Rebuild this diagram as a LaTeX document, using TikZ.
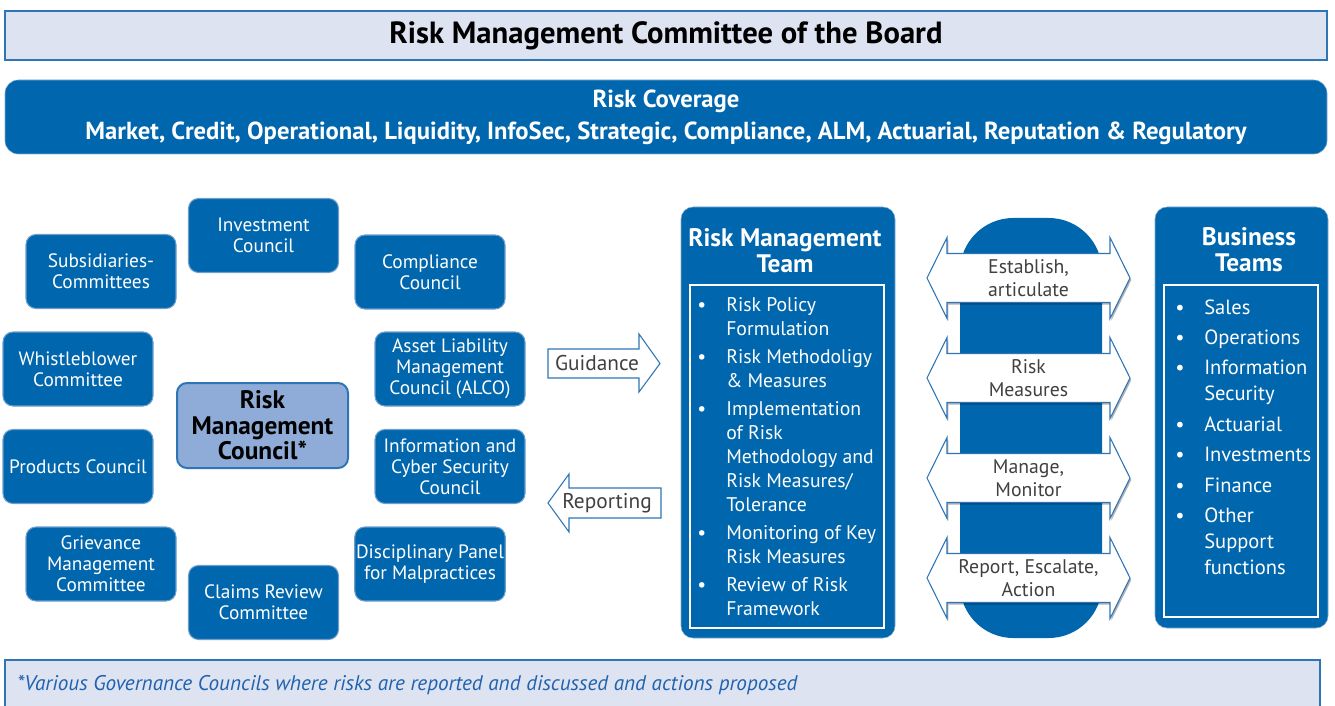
\documentclass[tikz,border=0pt]{standalone}
\usepackage{fontspec}
\setmainfont{PT Sans}
\usetikzlibrary{shadows}

\definecolor{rmblue}{HTML}{0066AD}
\definecolor{rmpale}{HTML}{DEE3F1}
\definecolor{rmline}{HTML}{2E75B6}
\definecolor{rmmid}{HTML}{8FACD9}
\definecolor{rmgray}{HTML}{404040}
\definecolor{rmnote}{HTML}{1F62AE}

\tikzset{
  council/.style={fill=rmblue, draw=rmline!70, line width=0.8pt, rounded corners=7.5pt,
    text=white, align=center, minimum width=112.5pt, minimum height=55.5pt, inner sep=1pt,
    font=\fontsize{14.5}{15.75}\selectfont},
  headtxt/.style={text=white, align=center, font=\bfseries\fontsize{19}{19.5}\selectfont},
  listtxt/.style={text=white, inner sep=0pt, anchor=base west},
  flowtxt/.style={text=rmgray, align=center, inner sep=0pt, font=\fontsize{14.8}{17.25}\selectfont},
  outline/.style={draw=rmline, fill=white, line width=0.8pt},
  glow/.style={drop shadow={shadow xshift=1pt, shadow yshift=-1.5pt, fill=black, opacity=0.3}}
}

% two-headed arrow of the middle column: centre y, node name, text
\newcommand{\twoway}[3]{%
  \draw[outline, glow] (927,#1) -- (947,#1-40.5) -- (947,#1-24.5) -- (1110,#1-24.5)
    -- (1110,#1-40.5) -- (1130,#1) -- (1110,#1+40.5) -- (1110,#1+24.5)
    -- (947,#1+24.5) -- (947,#1+40.5) -- cycle;
  \node[flowtxt] (#2) at (1028.5,#1) {#3};
}

\begin{document}
\begin{tikzpicture}[x=0.75pt,y=-0.75pt]
  \useasboundingbox (0,0) rectangle (1335,706);

  % board and coverage
  \node[draw=rmline, fill=rmpale, line width=1pt, minimum width=991.5pt, minimum height=36.75pt,
    font=\bfseries\fontsize{23}{24}\selectfont] (board) at (666,35.5) {Risk Management Committee of the Board};
  \node[fill=rmblue, draw=rmline!60, rounded corners=10pt, minimum width=991.5pt, minimum height=55.5pt,
    text=white, align=center, font=\bfseries\fontsize{18.5}{24}\selectfont] (cover) at (666,117)
    {Risk Coverage\\Market, Credit, Operational, Liquidity, InfoSec, Strategic, Compliance, ALM, Actuarial, Reputation \& Regulatory};

  % councils
  \node[council] (invest) at (263.5,235.5) {Investment\\Council};
  \node[council] (subsid) at (101,271.5) {Subsidiaries-\\Committees};
  \node[council] (comply) at (430,272) {Compliance\\Council};
  \node[council] (whistle) at (78,369) {Whistleblower\\Committee};
  \node[council] (alco) at (450,369) {Asset Liability\\Management\\Council (ALCO)};
  \node[council] (product) at (78,466.5) {Products Council};
  \node[council] (cyber) at (450,466.5) {Information and\\Cyber Security\\Council};
  \node[council] (grieve) at (101,564) {Grievance\\Management\\Committee};
  \node[council] (discip) at (430,564) {Disciplinary Panel\\for Malpractices};
  \node[council] (claims) at (263.5,602.5) {Claims Review\\Committee};
  \node[council, fill=rmmid, draw=rmline, line width=1.5pt, minimum width=128.25pt, minimum height=63.75pt,
    text=black, font=\bfseries\fontsize{19}{19}\selectfont] (rmc) at (262.5,425.5) {Risk\\Management\\Council*};

  % guidance and reporting
  \draw[outline] (548,349) -- (639,349) -- (639,334) -- (660,363.5) -- (639,392) -- (639,378) -- (548,378) -- cycle;
  \node[flowtxt, font=\fontsize{16}{18}\selectfont] (guide) at (597,363.5) {Guidance};
  \draw[outline] (661,488) -- (569,488) -- (569,474) -- (548,503) -- (569,532) -- (569,518) -- (661,518) -- cycle;
  \node[flowtxt, font=\fontsize{16}{18}\selectfont] (report) at (607,503) {Reporting};

  % risk management team
  \draw[fill=rmblue, draw=rmline!60, rounded corners=9pt] (681,207) rectangle (895,638);
  \node[headtxt] (rmt) at (785,250.5) {Risk Management\\Team};
  \draw[white, line width=1.5pt] (690,285) rectangle (884,628);
  \node[listtxt, font=\fontsize{14.8}{18}\selectfont] (rmtlist) at (697,311) {%
    \begin{tabular}[t]{@{}p{21.75pt}@{}l@{}}
      \textbullet & Risk Policy\\ & Formulation\\[3pt]
      \textbullet & Risk Methodoligy\\ & \& Measures\\[3pt]
      \textbullet & Implementation\\ & of Risk\\ & Methodology and\\ & Risk Measures/\\ & Tolerance\\[3pt]
      \textbullet & Monitoring of Key\\ & Risk Measures\\[3pt]
      \textbullet & Review of Risk\\ & Framework
    \end{tabular}};

  % middle column
  \fill[rmblue] (960,218) [rounded corners=40pt] rectangle (1102,638);
  \twoway{278}{establish}{Establish,\\articulate}
  \twoway{378}{measures}{Risk\\Measures}
  \twoway{478}{manage}{Manage,\\Monitor}
  \twoway{578}{escalate}{Report, Escalate,\\Action}

  % business teams
  \draw[fill=rmblue, draw=rmline!60, rounded corners=9pt] (1155,207) rectangle (1328,628);
  \node[headtxt] (biz) at (1249,249.5) {Business\\Teams};
  \draw[white, line width=1.5pt] (1164,285) rectangle (1318,617);
  \node[listtxt, font=\fontsize{15.4}{19.5}\selectfont] (bizlist) at (1175,314) {%
    \begin{tabular}[t]{@{}p{21.75pt}@{}l@{}}
      \textbullet & Sales\\[3.3pt]
      \textbullet & Operations\\[3.3pt]
      \textbullet & Information\\ & Security\\[3.3pt]
      \textbullet & Actuarial\\[3.3pt]
      \textbullet & Investments\\[3.3pt]
      \textbullet & Finance\\[3.3pt]
      \textbullet & Other\\ & Support\\ & functions
    \end{tabular}};

  % footnote
  \fill[rmpale] (5,660) rectangle (1320,706);
  \draw[rmline, line width=1pt] (5,706) -- (5,660) -- (1320,660) -- (1320,706);
  \node[anchor=west, inner sep=0pt, text=rmnote, font=\itshape\fontsize{15.9}{18}\selectfont] (note) at (17,685)
    {*Various Governance Councils where risks are reported and discussed and actions proposed};
\end{tikzpicture}
\end{document}
